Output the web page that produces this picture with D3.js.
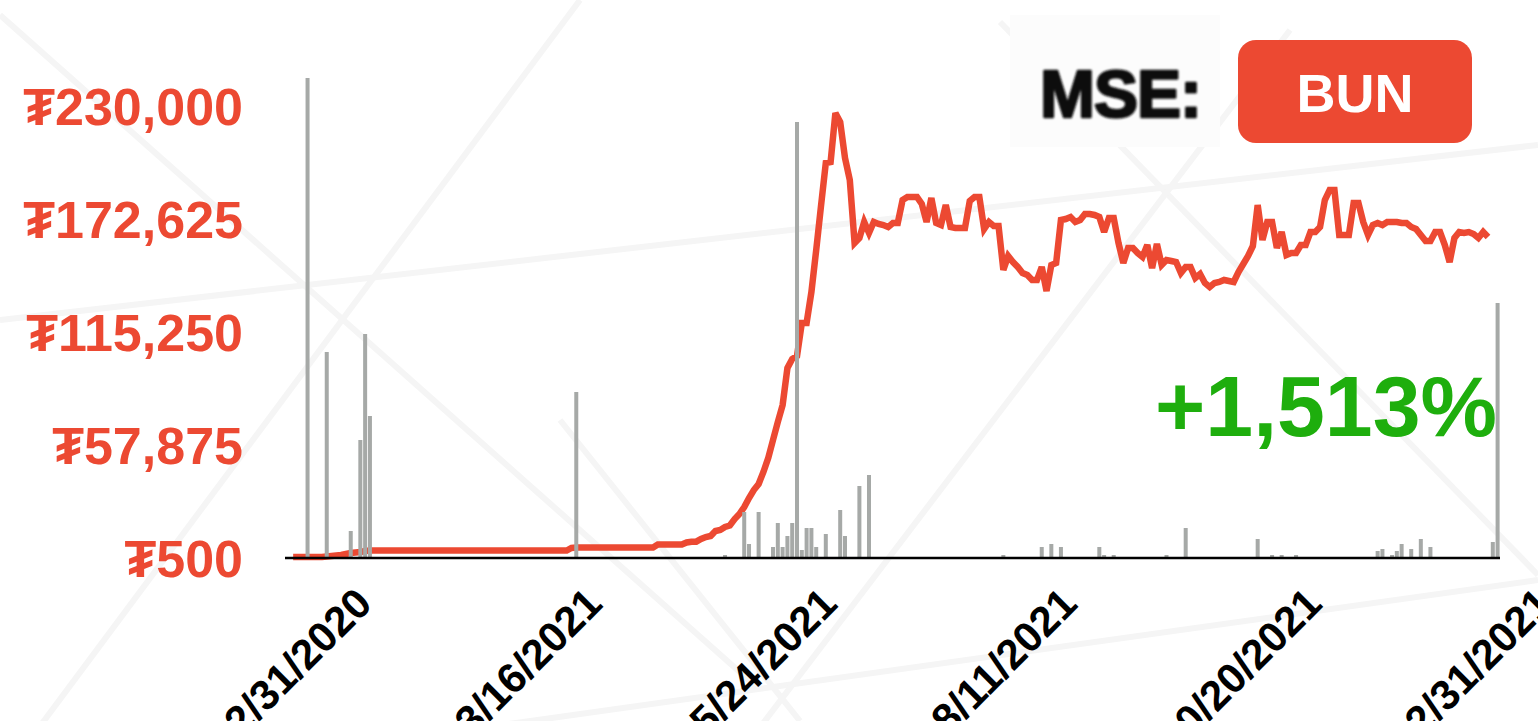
<!DOCTYPE html>
<html><head><meta charset="utf-8">
<script src="https://cdn.jsdelivr.net/npm/d3@7"></script>
<style>html,body{margin:0;padding:0;background:#fff;overflow:hidden}</style>
</head><body><svg id="c" width="1538" height="721"></svg>
<script>
// ---- data ----
const prices = [
1000,1000,1000,1000,1000,1000,1000,
1260,1500,1770,2020,2530,3040,3290,3550,4050,
4300,4300,4300,4300,4300,4300,4300,4300,4300,4300,
4300,4300,4300,4300,4300,4300,4300,4300,4300,4300,
4300,4300,4300,4300,4300,4300,4300,4300,4300,4300,
4300,4300,4300,4300,4300,4300,4300,4300,4300,4300,
4300,4300,
5580,
5830,5830,5830,5830,5830,5830,5830,5830,5830,5830,
5830,5830,5830,5830,5830,5830,5830,
7350,7350,7350,7350,7350,7350,
8370,8780,8780,10150,11160,11670,14210,14720,
16240,17000,20300,22840,26400,30960,35030,38070,44170,51270,
60410,69550,78180,96970,101540,103060,119820,119820,135560,156880,
179220,201060,201570,226440,221880,203600,192430,160440,162980,171100,
165520,171100,170090,169580,168560,170590,170590,182270,183790,183790,
183790,180240,171100,183290,170590,169580,179730,168560,168050,168050,
168050,181760,183790,183790,167550,171100,169070,169070,146730,153840,
150790,148250,145210,144190,141650,141650,148250,136070,149270,150280,
172120,172620,173640,171100,172120,175160,175160,174660,173640,166020,
173130,173130,160440,150280,157900,157900,155360,153330,159420,147750,
159930,149270,151810,151300,150790,145210,148250,148250,142670,144700,
140130,138100,140130,140640,141650,141140,140640,145710,149780,153840,
158920,179730,161960,171100,171100,157900,166020,154340,155360,155360,
159420,159420,166020,166020,168560,182270,187350,187350,164500,164500,
164500,180750,180750,171100,164500,169580,170590,169580,171100,171100,
171100,170590,170590,168560,167550,164500,161450,161450,166020,166020,
159420,150790,162980,166020,165520,166020,165010,162980,166020,163490
];
const volumeDays   = [3,7,12,14,15,16,59,90,94,95,97,100,101,102,103,104,105,106,107,108,109,111,114,115,118,120,148,156,158,160,168,169,171,182,186,201,204,206,209,226,227,229,230,231,233,235,237,250,251];
const volumeValues = [4800,2060,270,1180,2240,1420,1660,30,460,140,460,110,350,110,220,350,4360,80,300,300,110,240,480,220,720,830,30,110,140,110,110,30,30,30,300,190,30,30,30,70,90,30,70,140,90,190,110,160,2550];
const yTicks = [500, 57875, 115250, 172625, 230000];
const xTickIndex = [16, 64, 113, 163, 214, 262];
const xTickLabels = ["12/31/2020","3/16/2021","5/24/2021","8/11/2021","10/20/2021","12/31/2021"];
const exchangeLabel = "MSE:";
const tickerLabel = "BUN";
const changeLabel = "+1,513%";

// ---- drawing ----
const RED = "#ec4932", GREY = "#a6a9a7", GREEN = "#1eae0d";
const FONT = "'Liberation Sans', Arial, Helvetica, sans-serif";
const svg = d3.select("#c");

// faint background pattern
const bg = svg.append("g").attr("stroke", "#f5f5f5").attr("stroke-width", 6).attr("fill", "none");
[[0,15,760,690],[580,0,0,780],[0,320,1538,145],[180,770,1538,580],[560,420,800,721],
 [1000,22,1538,575],[1290,30,720,780]].forEach(l =>
  bg.append("line").attr("x1",l[0]).attr("y1",l[1]).attr("x2",l[2]).attr("y2",l[3]));

const x = d3.scaleLinear().domain([-1.7, 251.5]).range([285, 1500]);
const y = d3.scaleLinear().domain([500, 230000]).range([558, 106]);
const yv = d3.scaleLinear().domain([0, 4800]).range([558, 78]);

// y labels
svg.append("g").selectAll("text").data(yTicks).join("text")
  .attr("x", 243).attr("y", d => y(d) + 19)
  .attr("text-anchor", "end").attr("fill", RED)
  .style("font", `bold 52px ${FONT}`)
  .text(d => "₮" + d3.format(",")(d));

// price line
svg.append("path").datum(prices)
  .attr("fill", "none").attr("stroke", RED).attr("stroke-width", 6.5)
  .attr("stroke-linejoin", "miter").attr("stroke-miterlimit", 3)
  .attr("d", d3.line().x((d, i) => x(i)).y(d => y(d)));

// volume bars
svg.append("g").selectAll("rect").data(volumeDays).join("rect")
  .attr("x", d => x(d) - 2).attr("width", 4)
  .attr("y", (d, i) => yv(volumeValues[i]))
  .attr("height", (d, i) => yv(0) - yv(volumeValues[i]))
  .attr("fill", GREY);

// baseline axis
svg.append("line").attr("x1", x.range()[0]).attr("x2", x.range()[1])
  .attr("y1", y(500)).attr("y2", y(500)).attr("stroke", "#000").attr("stroke-width", 2.6);

// x labels
svg.append("g").selectAll("text").data(xTickIndex).join("text")
  .attr("transform", d => `translate(${x(d) + 4},${606}) rotate(-45)`)
  .attr("text-anchor", "end").attr("fill", "#000")
  .style("font", `bold 42px ${FONT}`)
  .text((d, i) => xTickLabels[i]);

// change label
svg.append("text").attr("x", 1497).attr("y", 436).attr("text-anchor", "end")
  .attr("fill", GREEN).style("font", `bold 86px ${FONT}`).text(changeLabel);

// header
svg.append("rect").attr("x", 1010).attr("y", 15).attr("width", 210).attr("height", 132).attr("fill", "#fcfcfc");
const defs = svg.append("defs");
defs.append("filter").attr("id", "blur").append("feGaussianBlur").attr("stdDeviation", 0.8);
svg.append("text").attr("x", 1040).attr("y", 117).attr("fill", "#111")
  .attr("stroke", "#111").attr("stroke-width", 2.5).attr("stroke-linejoin", "round")
  .attr("filter", "url(#blur)")
  .style("font", `bold 66px ${FONT}`).style("letter-spacing", "-1px").text(exchangeLabel);
svg.append("rect").attr("x", 1238).attr("y", 40).attr("width", 234).attr("height", 103)
  .attr("rx", 18).attr("fill", RED);
svg.append("text").attr("x", 1355).attr("y", 112).attr("text-anchor", "middle")
  .attr("fill", "#fff").style("font", `bold 54px ${FONT}`).text(tickerLabel);
</script>
</body></html>
